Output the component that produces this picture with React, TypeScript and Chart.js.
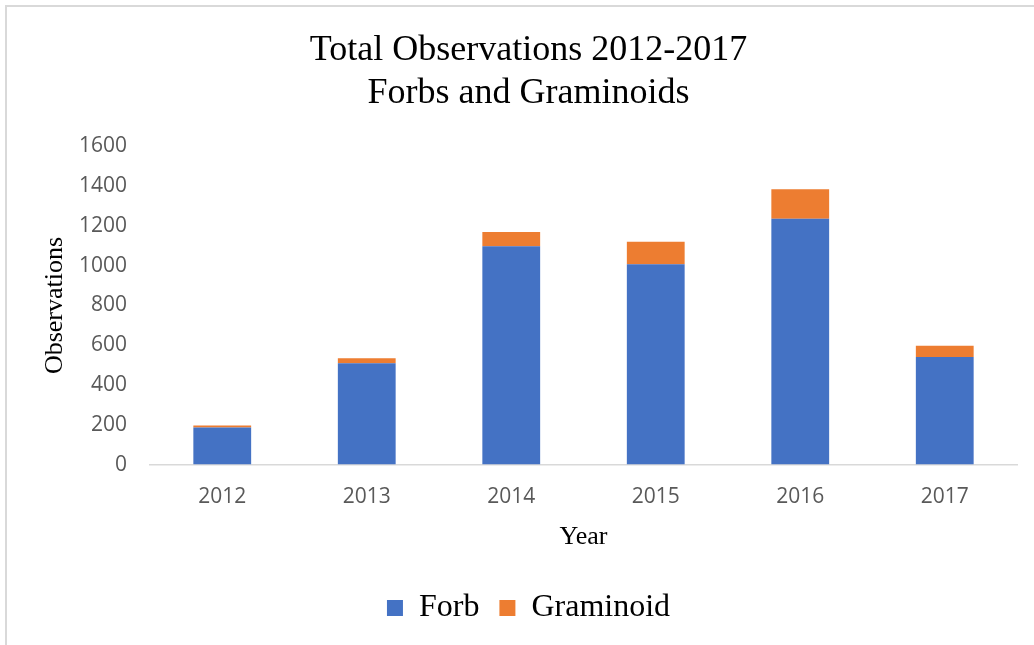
import React, { useEffect, useRef } from "react";
import { Chart, registerables } from "chart.js";

Chart.register(...registerables);

const years = ["2012", "2013", "2014", "2015", "2016", "2017"];
const forb = [186, 510, 1098, 1008, 1236, 541];
const graminoid = [10, 25, 72, 113, 149, 57];
const titleLines = ["Total Observations 2012-2017", "Forbs and Graminoids"];

const SERIF = "'Liberation Serif', 'Times New Roman', serif";
const SANS = "'Open Sans', 'Noto Sans', sans-serif";

export default function App() {
  const ref = useRef<HTMLCanvasElement | null>(null);

  useEffect(() => {
    if (!ref.current) return;
    const chart = new Chart(ref.current, {
      type: "bar",
      data: {
        labels: years,
        datasets: [
          { label: "Forb", data: forb, backgroundColor: "#4472C4", borderWidth: 0 },
          { label: "Graminoid", data: graminoid, backgroundColor: "#ED7D31", borderWidth: 0 },
        ],
      },
      options: {
        animation: false,
        responsive: false,
        maintainAspectRatio: false,
        datasets: { bar: { categoryPercentage: 0.8, barPercentage: 0.5 } },
        layout: { padding: { top: 19, left: 40, right: 17, bottom: 11 } },
        plugins: {
          tooltip: { enabled: false },
          title: {
            display: true,
            text: titleLines,
            color: "#000",
            font: { family: SERIF, size: 36, weight: "normal", lineHeight: 1.2 },
            padding: { top: 10, bottom: 31 },
          },
          legend: {
            position: "bottom",
            labels: {
              boxWidth: 16,
              boxHeight: 16,
              color: "#000",
              padding: 20,
              font: { family: SERIF, size: 32 },
            },
          },
        },
        scales: {
          x: {
            stacked: true,
            grid: { display: false },
            border: { display: true, color: "#d9d9d9", width: 1.5 },
            ticks: { color: "#595959", font: { family: SANS, size: 21 }, padding: 12 },
            title: {
              display: true,
              text: "Year",
              color: "#000",
              font: { family: SERIF, size: 26 },
              padding: { top: 0, bottom: 19 },
            },
          },
          y: {
            stacked: true,
            min: 0,
            max: 1600,
            grid: { display: false },
            border: { display: false },
            afterFit: (scale: any) => {
              scale.width = 110;
            },
            ticks: {
              stepSize: 200,
              color: "#595959",
              font: { family: SANS, size: 21 },
              padding: 15,
              callback: (v: any) => String(v),
            },
            title: {
              display: true,
              text: "Observations",
              color: "#000",
              font: { family: SERIF, size: 26 },
              padding: { top: 0, bottom: 8 },
            },
          },
        },
      },
    });
    return () => chart.destroy();
  }, []);

  return (
    <div style={{ position: "absolute", left: 0, top: 0, width: 1034, height: 645, background: "#fff" }}>
      <div
        style={{
          position: "absolute",
          left: 5,
          top: 5,
          width: 1040,
          height: 650,
          borderLeft: "2px solid #d9d9d9",
          borderTop: "2px solid #d9d9d9",
        }}
      />
      <canvas ref={ref} width={1034} height={645} style={{ position: "absolute", left: 0, top: 0 }} />
    </div>
  );
}
